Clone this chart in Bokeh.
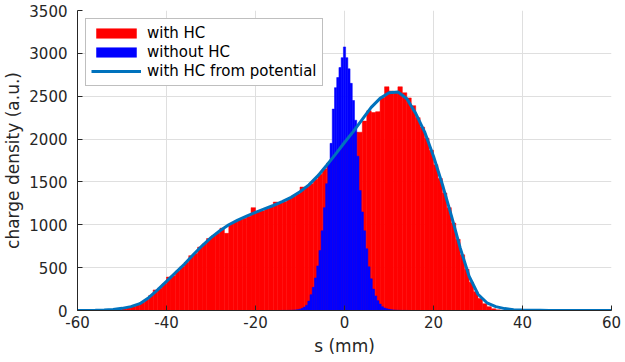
import numpy as np
from bokeh.plotting import figure
from bokeh.models import Range1d, FixedTicker
from bokeh.embed import file_html
from bokeh.resources import INLINE

# ---- data ----
# model curve "with HC from potential", sampled every 2 mm
curve_s = list(range(-60, 61, 2))
curve_v = [0, 1, 2, 5, 12, 25, 45, 80, 150, 240,
           340, 440, 540, 650, 755, 850, 930, 1000, 1055, 1100,
           1145, 1185, 1225, 1270, 1320, 1385, 1465, 1570, 1695, 1825,
           1960, 2090, 2230, 2370, 2475, 2540, 2550, 2470, 2300, 2085,
           1800, 1470, 1110, 730, 400, 190, 90, 45, 22, 10,
           5, 3, 2, 1, 1, 0, 0, 0, 0, 0, 0]

# histogram "with HC": 1 mm bins, first bin centre at -51.5 mm
red_first_center = -51.5
red_bin_width = 1.0
red_values = [5, 10, 20, 35, 45, 65, 90, 125, 175, 240,
              260, 310, 390, 405, 460, 510, 560, 640, 665, 740,
              775, 840, 870, 900, 960, 900, 1010, 1035, 1060, 1075,
              1100, 1200, 1150, 1160, 1185, 1210, 1265, 1260, 1270, 1300,
              1330, 1360, 1440, 1440, 1480, 1530, 1590, 1650, 1720, 1790,
              1850, 1920, 1990, 2050, 2080, 2080, 2210, 2330, 2310, 2320,
              2480, 2610, 2560, 2545, 2610, 2540, 2480, 2390, 2250, 2140,
              2010, 1870, 1700, 1540, 1370, 1200, 1020, 830, 650, 480,
              330, 220, 140, 80, 45, 20, 8, 3, 1]

# histogram "without HC": 0.5 mm bins, first bin centre at -14 mm
blue_first_center = -14.0
blue_bin_width = 0.5
blue_values = [1, 1, 1, 2, 3, 5, 7, 10, 16, 25,
               40, 62, 110, 185, 270, 380, 520, 700, 930, 1200,
               1480, 1720, 1950, 2350, 2600, 2718, 2835, 2950, 3075, 2950,
               2820, 2650, 2450, 2220, 1800, 1400, 1150, 930, 720, 510,
               370, 250, 170, 115, 75, 45, 30, 20, 14, 10,
               7, 5, 3, 2, 1, 1, 1]

x_ticks = [-60, -40, -20, 0, 20, 40, 60]
y_ticks = [0, 500, 1000, 1500, 2000, 2500, 3000, 3500]

FONT = "DejaVu Sans"
AX = "#262626"

red_c = red_first_center + red_bin_width * np.arange(len(red_values))
blue_c = blue_first_center + blue_bin_width * np.arange(len(blue_values))

p = figure(frame_width=534, frame_height=300, output_backend="svg",
           toolbar_location=None,
           x_range=Range1d(-60, 60), y_range=Range1d(0, 3500),
           min_border_left=74, min_border_right=10, min_border_top=10,
           min_border_bottom=40)
p.outline_line_color = None
p.background_fill_color = "white"
p.border_fill_color = "white"

p.quad(left=red_c - red_bin_width / 2, right=red_c + red_bin_width / 2,
       top=red_values, bottom=0, fill_color="#FF0000", line_color="#FF0000",
       line_width=0.5, legend_label="with HC")
p.quad(left=blue_c - blue_bin_width / 2, right=blue_c + blue_bin_width / 2,
       top=blue_values, bottom=0, fill_color="#0000FF", line_color="#0000FF",
       line_width=0.5, legend_label="without HC")
p.line(curve_s, curve_v, line_color="#0072BD", line_width=3,
       legend_label="with HC from potential")

for ax in (p.xaxis[0], p.yaxis[0]):
    ax.axis_line_color = AX
    ax.major_tick_line_color = AX
    ax.major_tick_in = 5
    ax.major_tick_out = 0
    ax.minor_tick_line_color = None
    ax.major_label_text_font = FONT
    ax.major_label_text_font_size = "15px"
    ax.major_label_text_color = AX
    ax.axis_label_text_font = FONT
    ax.axis_label_text_font_size = "17px"
    ax.axis_label_text_font_style = "normal"
    ax.axis_label_text_color = AX

p.xaxis.ticker = FixedTicker(ticks=x_ticks)
p.yaxis.ticker = FixedTicker(ticks=y_ticks)
p.xaxis.major_label_overrides = {t: str(t) for t in x_ticks}
p.xaxis.axis_label = "s (mm)"
p.yaxis.axis_label = "charge density (a.u.)"
p.xaxis.major_label_standoff = 5
p.yaxis.major_label_standoff = 10
p.xaxis.axis_label_standoff = 5
p.yaxis.axis_label_standoff = 3

p.xgrid.ticker = FixedTicker(ticks=x_ticks)
p.ygrid.ticker = FixedTicker(ticks=y_ticks)
p.grid.grid_line_color = "#dfdfdf"
p.grid.grid_line_width = 1

lg = p.legend[0]
lg.location = "top_left"
lg.margin = 8
lg.padding = 5
lg.spacing = 1
lg.glyph_width = 50
lg.glyph_height = 12
lg.label_height = 14
lg.label_standoff = 6
lg.label_text_font = FONT
lg.label_text_font_size = "15px"
lg.label_text_color = "#000000"
lg.border_line_color = "#808080"
lg.border_line_width = 1
lg.background_fill_alpha = 1.0

open("out.html", "w").write(file_html(p, INLINE))
